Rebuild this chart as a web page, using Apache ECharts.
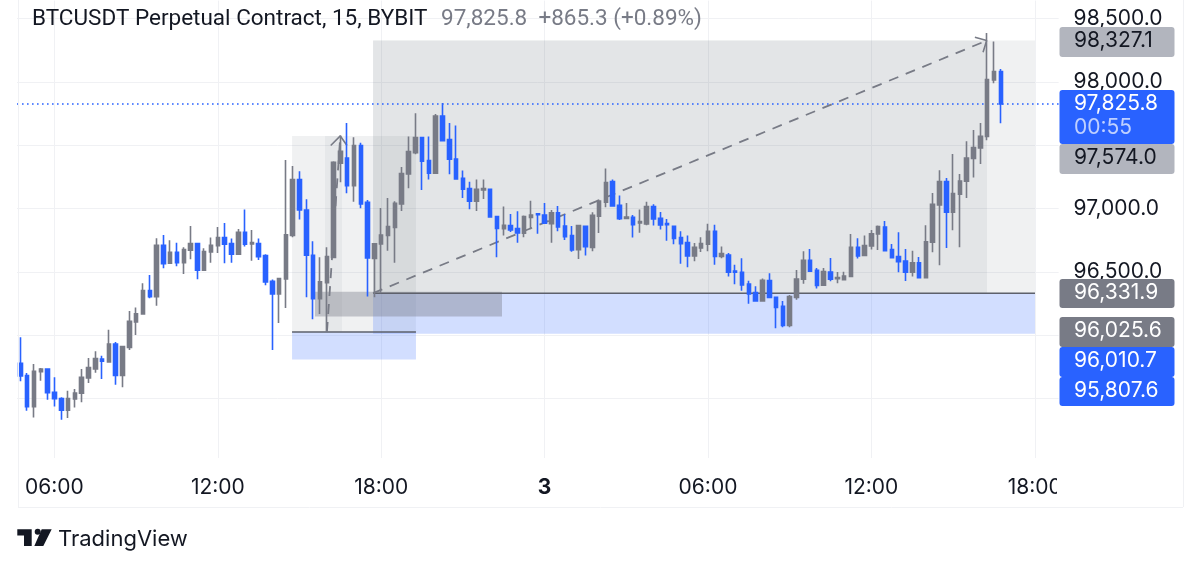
<!DOCTYPE html>
<html>
<head>
<meta charset="utf-8">
<style>html,body{margin:0;padding:0;background:#fff}#chart{width:1200px;height:568px}</style>
<script src="https://cdn.jsdelivr.net/npm/echarts@6/dist/echarts.min.js"></script>
</head>
<body>
<div id="chart"></div>
<script>
// 15 minute bars, first bar is 04:45
var barOpen = [95778,95681,95436,95712,95733,95549,95499,95407,95496,95541,95662,95733,95812,95789,95931,95683,95904,96104,96168,96352,96305,96710,96568,96655,96573,96671,96723,96513,96657,96707,96771,96723,96639,96813,96721,96723,96629,96426,96326,
  96444,96787,97229,96989,96631,96289,96415,96615,97358,97400,97181,97498,97050,96607,96721,96787,96852,97037,97274,97442,97561,97379,97279,97732,97545,97392,97239,97158,97058,97147,97153,96937,
  96842,96866,96842,96805,96931,96958,96950,96881,96966,96863,96787,96676,96860,96694,96939,97050,97213,97026,96923,96931,96887,96879,97016,96923,96881,96860,96771,96731,96626,96689,96718,96821,96623,96634,96507,96497,96405,96336,96270,96431,96299,96228,96078,
  96299,96442,96592,96513,96394,96499,96447,96439,96465,96694,96629,96705,96800,96855,96676,96621,96586,96497,96571,96455,96734,97029,97213,96971,97113,97216,97397,97479,97569,98016,98082];
var barClose = [95678,95436,95715,95733,95546,95499,95407,95499,95544,95667,95744,95815,95794,95931,95683,95910,96110,96170,96352,96305,96710,96565,96655,96573,96676,96723,96513,96660,96710,96771,96718,96639,96813,96718,96731,96621,96420,96326,96447,
  96794,97229,96989,96631,96289,96421,96621,97366,97453,97181,97498,97037,96610,96721,96792,96858,97042,97276,97450,97561,97374,97279,97732,97537,97390,97234,97153,97058,97153,97158,96934,96844,
  96868,96831,96808,96937,96950,96952,96884,96966,96855,96779,96673,96866,96700,96947,97060,97205,97021,96921,96934,96873,96897,97016,96918,96871,96873,96765,96723,96626,96694,96723,96821,96623,96644,96497,96497,96397,96326,96270,96434,96299,96220,96078,96305,
  96444,96592,96505,96392,96502,96442,96455,96468,96694,96626,96708,96800,96858,96668,96613,96581,96497,96571,96455,96737,97034,97213,96971,97118,97218,97400,97482,97571,98019,98082,97826];
var barLow = [95636,95404,95349,95641,95491,95436,95333,95346,95428,95470,95623,95704,95654,95783,95609,95588,95883,96002,96168,96291,96233,96528,96568,96544,96484,96600,96442,96513,96573,96650,96568,96573,96639,96700,96589,96594,96394,95883,96097,
  96215,96773,96913,96299,96126,96168,96026,96615,97208,97121,97055,97002,96305,96299,96332,96668,96573,96981,97160,97429,97147,97229,97279,97532,97271,97229,97084,96995,96981,97076,96931,96615,
  96787,96815,96731,96773,96837,96802,96884,96731,96821,96752,96660,96602,96629,96663,96808,97010,97021,96910,96923,96771,96810,96868,96866,96834,96747,96718,96565,96536,96584,96657,96663,96557,96607,96463,96402,96352,96249,96268,96270,96297,96054,96062,96062,
  96281,96407,96505,96368,96394,96426,96410,96436,96465,96605,96629,96676,96673,96668,96613,96497,96428,96463,96455,96455,96655,96552,96689,96829,96694,97084,97245,97353,97540,97990,97674];
var barHigh = [95983,95702,95773,95741,95733,95667,95509,95562,95575,95733,95820,95873,95838,96044,95946,95910,96191,96218,96410,96476,96765,96792,96750,96731,96694,96863,96729,96686,96771,96855,96887,96763,96839,96992,96831,96763,96639,96439,96452,
  97384,97337,97295,97074,96742,96615,96694,97374,97577,97677,97563,97521,97068,96721,97005,97084,97058,97329,97569,97753,97561,97569,97748,97835,97677,97656,97300,97213,97229,97229,97153,96937,
  97016,96958,96979,96945,97063,96958,97045,96989,97021,96955,96863,96873,96863,96971,97071,97316,97229,97103,97045,96950,96992,97055,97034,96973,96918,96863,96821,96787,96729,96773,96881,96873,96700,96650,96557,96607,96431,96386,96447,96489,96305,96270,96318,
  96515,96663,96681,96531,96531,96610,96499,96502,96800,96765,96787,96831,96866,96902,96721,96813,96681,96668,96618,96868,97124,97303,97242,97432,97274,97532,97621,97677,98388,98319,98103];

var priceTicks = [98500,98000,97000,96500];
var firstBarMinutes = 285;
var barSlots = 153;

// drawing tools, x in bar slots, y in price
var zoneFrom   = [39.9,44.74,51.8,51.8,51.8,39.9,43.27];
var zoneTo     = [58.1,47.24,149.03,141.98,149.03,58.1,70.74];
var zoneTop    = [97574,97574,98327.1,98327.1,96331.9,96025.6,96344];
var zoneBottom = [96025.6,96025.6,96331.9,96331.9,96010.7,95807.6,96147];
var zoneColor  = ['rgba(120,123,134,0.11)','rgba(120,123,134,0.08)','rgba(120,123,134,0.11)','rgba(120,123,134,0.11)','rgba(41,98,255,0.21)','rgba(41,98,255,0.21)','rgba(120,123,134,0.4)'];

var lastPrice = 97825.8;
var solidLines = [[[51.8,96331.9],[149.03,96331.9]],[[39.9,96025.6],[58.1,96025.6]]];
var arrowLines = [[[51.8,96331.9],[141.93,98327.1]],[[45.03,96025.6],[46.99,97574]]];
var arrowHeads = [[[140.2,98353],[141.93,98327.1],[141.4,98235]],[[45.58,97498],[46.99,97574],[47.97,97498]]];

// tags on the price scale
var tagText  = ['98,327.1','97,825.8','97,574.0','96,331.9','96,025.6','96,010.7','95,807.6'];
var tagFill  = ['#b2b5be','#2962ff','#b2b5be','#787b86','#787b86','#2962ff','#2962ff'];
var tagInk   = ['#131722','#ffffff','#131722','#ffffff','#ffffff','#ffffff','#ffffff'];
var tagTop   = [27,90,144,279,317,347,377];
var tagHigh  = [30,54,30,29,30,30,29];

var GREY = '#787b86', BLUE = '#2962ff', GRIDC = '#f0f1f4', INK = '#131722';
var FONT = 'Inter';

var myChart = echarts.init(document.getElementById('chart'));

var barTimes = [];
for (var i = 0; i < barSlots; i++) {
    var m = (firstBarMinutes + i * 15) % 1440;
    var hh = Math.floor(m / 60), mm = m % 60;
    barTimes.push(m === 0 ? '3' : (hh < 10 ? '0' : '') + hh + ':' + (mm < 10 ? '0' : '') + mm);
}
var isTick = function (i) { return (i * 15 + firstBarMinutes) % 360 === 0; };

var candles = barOpen.map(function (o, i) { return [o, barClose[i], barLow[i], barHigh[i]]; });

var zones = zoneFrom.map(function (x, i) {
    return [
        {coord: [x, zoneTop[i]], itemStyle: {color: zoneColor[i]}},
        {coord: [zoneTo[i], zoneBottom[i]]}
    ];
});

var series = [
    {
        type: 'line', xAxisIndex: 1, z: 1, silent: true, showSymbol: false,
        data: [[-0.5, lastPrice], [barSlots - 0.5, lastPrice]],
        lineStyle: {color: BLUE, width: 1.6, type: [1.6, 3.4]},
        markArea: {silent: true, data: zones}
    },
    {
        type: 'candlestick', xAxisIndex: 0, z: 3, barWidth: 4,
        data: candles,
        itemStyle: {color: GREY, color0: BLUE, borderColor: GREY, borderColor0: BLUE, borderWidth: 1.6}
    }
];
solidLines.forEach(function (d) {
    series.push({type: 'line', xAxisIndex: 1, z: 2, silent: true, showSymbol: false, data: d,
        lineStyle: {color: '#5d606b', width: 1.5}});
});
arrowLines.forEach(function (d) {
    series.push({type: 'line', xAxisIndex: 1, z: 2, silent: true, showSymbol: false, data: d,
        lineStyle: {color: GREY, width: 1.8, type: [10, 8]}});
});
arrowHeads.forEach(function (d) {
    series.push({type: 'line', xAxisIndex: 1, z: 2, silent: true, showSymbol: false, data: d,
        lineStyle: {color: GREY, width: 1.6}});
});

var graphics = [
    {type: 'rect', z: 50, shape: {x: 19, y: 458, width: 1164, height: 12}, style: {fill: '#fff'}},
    {type: 'rect', z: 50, shape: {x: 1057, y: 468, width: 125, height: 34}, style: {fill: '#fff'}},
    {type: 'line', z: 50, shape: {x1: 18.5, y1: 0, x2: 18.5, y2: 507}, style: {stroke: GRIDC, lineWidth: 1}},
    {type: 'line', z: 50, shape: {x1: 1183.5, y1: 0, x2: 1183.5, y2: 507}, style: {stroke: GRIDC, lineWidth: 1}},
    {type: 'line', z: 50, shape: {x1: 18, y1: 507.5, x2: 1183, y2: 507.5}, style: {stroke: GRIDC, lineWidth: 1}},
    // TradingView logo
    {type: 'polygon', z: 50, shape: {points: [[17.3,529.3],[31.7,529.3],[31.7,546],[24,546],[24,535.5],[17.3,535.5]]}, style: {fill: INK}},
    {type: 'circle', z: 50, shape: {cx: 37.7, cy: 531.8, r: 3}, style: {fill: INK}},
    {type: 'polygon', z: 50, shape: {points: [[41.7,529.3],[51.7,529.3],[43.3,546],[34.3,546]]}, style: {fill: INK}},
    {type: 'text', z: 50, x: 58, y: 539, style: {text: 'TradingView', fill: INK, font: '22px ' + FONT, textVerticalAlign: 'middle'}}
];
tagText.forEach(function (t, i) {
    graphics.push({type: 'rect', z: 60, shape: {x: 1059.5, y: tagTop[i], width: 115, height: tagHigh[i], r: 3}, style: {fill: tagFill[i]}});
    graphics.push({type: 'text', z: 61, x: 1074, y: tagTop[i] + 14, style: {text: t, fill: tagInk[i], font: '21px ' + FONT, textVerticalAlign: 'middle'}});
});
graphics.push({type: 'text', z: 61, x: 1074, y: 128, style: {text: '00:55', fill: 'rgba(255,255,255,0.7)', font: '21px ' + FONT, textVerticalAlign: 'middle'}});

var option = {
    animation: false,
    title: [
        {text: 'BTCUSDT Perpetual Contract, 15, BYBIT', left: 27, top: 3, textStyle: {fontFamily: 'Roboto', fontWeight: 'normal', fontSize: 22.5, color: INK}},
        {text: '97,825.8  +865.3 (+0.89%)', left: 436, top: 3, textStyle: {fontFamily: 'Roboto', fontWeight: 'normal', fontSize: 22.5, color: GREY}}
    ],
    grid: {left: 17, top: 0.6, width: 6.808 * barSlots, height: 461.2},
    xAxis: [
        {
            type: 'category', data: barTimes, boundaryGap: true,
            axisLine: {show: false}, axisTick: {show: false},
            axisLabel: {
                interval: function (i) { return isTick(i); },
                margin: 15, fontFamily: FONT, fontSize: 21, color: INK,
                formatter: function (v) { return v === '3' ? '{b|3}' : v; },
                rich: {b: {fontFamily: FONT, fontSize: 21, fontWeight: 'bold', color: INK}}
            },
            splitLine: {show: true, alignWithLabel: true, interval: function (i) { return isTick(i); }, lineStyle: {color: GRIDC, width: 1}}
        },
        {type: 'value', show: false, min: -0.5, max: barSlots - 0.5, splitLine: {show: false}}
    ],
    yAxis: {
        type: 'value', position: 'right', min: 95000, max: 98643, interval: 500,
        axisLine: {show: false}, axisTick: {show: false},
        axisLabel: {
            margin: 15, fontFamily: FONT, fontSize: 21, color: INK, align: 'left',
            padding: [2, 0, 0, 0], showMaxLabel: false,
            formatter: function (v) {
                return priceTicks.indexOf(v) < 0 ? '' : v.toLocaleString('en-US', {minimumFractionDigits: 1});
            }
        },
        splitLine: {show: true, showMinLine: false, showMaxLine: false, lineStyle: {color: GRIDC, width: 1}}
    },
    series: series,
    graphic: graphics
};
myChart.setOption(option);
</script>
</body>
</html>
